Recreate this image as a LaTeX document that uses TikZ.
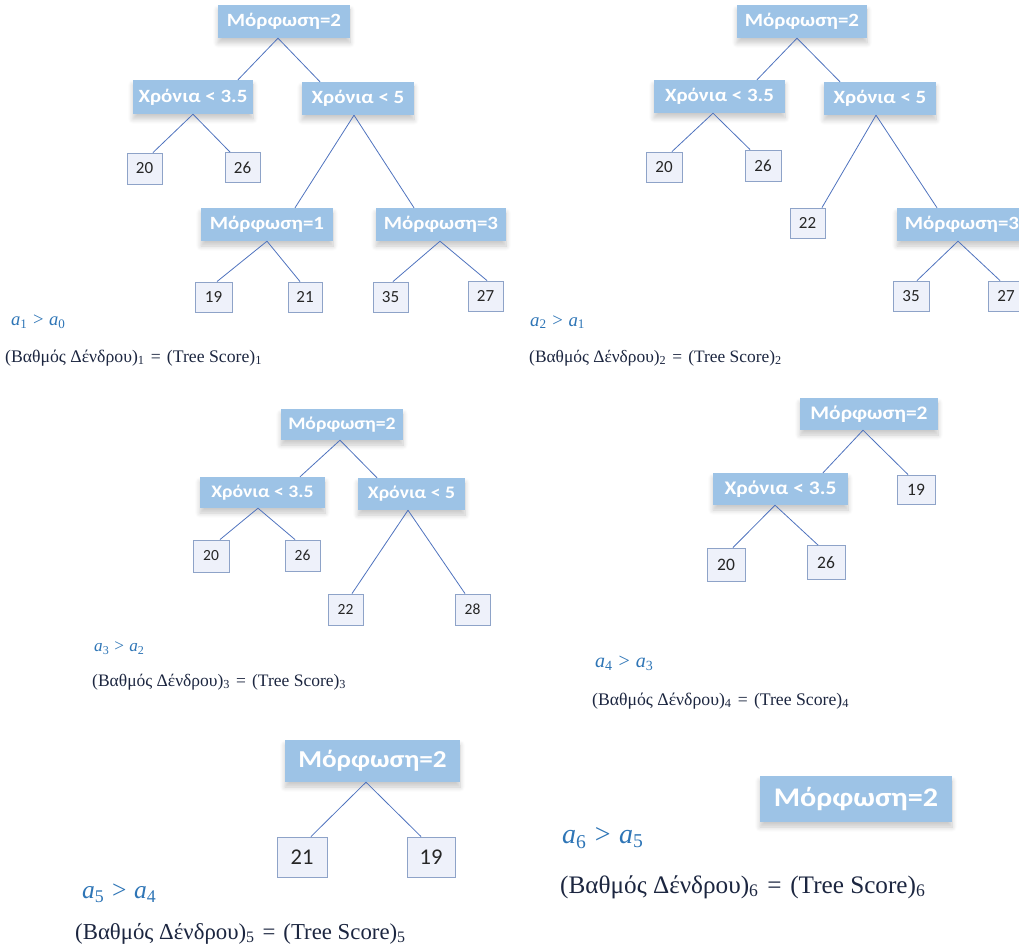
\documentclass[tikz,border=0pt]{standalone}
\usepackage{fontspec}
\setmainfont{Liberation Serif}
\newfontfamily\carl{Carlito}
\newfontfamily\carlw[FakeStretch=1.12]{Carlito}
\usetikzlibrary{shadows.blur}
\definecolor{hdrblue}{HTML}{9DC3E6}
\definecolor{leaffill}{HTML}{EEF1FA}
\definecolor{leafdraw}{HTML}{8EA3C8}
\definecolor{edgeblue}{HTML}{4F73BE}
\definecolor{ablue}{HTML}{2E75B6}
\definecolor{fnavy}{HTML}{1C2640}
\newcommand\tscore[1]{(Βαθμός Δένδρου)\textsubscript{#1}\hspace{0.35em}=\hspace{0.35em}(Tree Score)\textsubscript{#1}}
\newcommand\aineq[2]{\textit{a}\textsubscript{#1}\hspace{0.3em}>\hspace{0.3em}\textit{a}\textsubscript{#2}}
\newcommand\fsz[1]{\fontsize{#1}{#1}\selectfont}
\tikzset{
  hdr/.style={fill=hdrblue, text=white, inner sep=0pt,
    blur shadow={shadow xshift=0pt, shadow yshift=-5pt, shadow blur steps=8, shadow opacity=22, shadow blur radius=5pt}},
  leaf/.style={fill=leaffill, draw=leafdraw, line width=0.9pt, inner sep=0pt, text=black!85},
  edge/.style={draw=edgeblue, line width=0.8pt},
  atext/.style={anchor=west, inner sep=0pt, text=ablue},
  ftext/.style={anchor=west, inner sep=0pt, text=fnavy}
}
\begin{document}
\begin{tikzpicture}[x=1pt,y=-1pt]
\useasboundingbox (0,0) rectangle (1019,949);
% ---------- Tree 1 ----------
\node[hdr, minimum width=132pt, minimum height=33pt, font=\carlw\bfseries\fsz{18.7}] (r1) at (284,21.5) {Μόρφωση=2};
\node[hdr, minimum width=120pt, minimum height=34pt, font=\carlw\bfseries\fsz{18.7}] (a1) at (193,97) {Χρόνια < 3.5};
\node[hdr, minimum width=112pt, minimum height=33pt, font=\carlw\bfseries\fsz{18.7}] (b1) at (358,98.5) {Χρόνια < 5};
\node[hdr, minimum width=132pt, minimum height=33pt, font=\carlw\bfseries\fsz{18.7}] (m1) at (267,224.5) {Μόρφωση=1};
\node[hdr, minimum width=130pt, minimum height=33pt, font=\carlw\bfseries\fsz{18.7}] (m3) at (441,224.5) {Μόρφωση=3};
\node[leaf, minimum width=35pt, minimum height=31pt, font=\carl\fsz{17}] (t1l20) at (144.5,168.5) {20};
\node[leaf, minimum width=35pt, minimum height=30pt, font=\carl\fsz{17}] (t1l26) at (242.5,167.5) {26};
\node[leaf, minimum width=37pt, minimum height=30pt, font=\carl\fsz{17}] (t1l19) at (213.5,297) {19};
\node[leaf, minimum width=34pt, minimum height=30pt, font=\carl\fsz{17}] (t1l21) at (305,297) {21};
\node[leaf, minimum width=35pt, minimum height=30pt, font=\carl\fsz{17}] (t1l35) at (390.5,297) {35};
\node[leaf, minimum width=35pt, minimum height=30pt, font=\carl\fsz{17}] (t1l27) at (485.5,296) {27};
\draw[edge] ([xshift=-6pt]r1.south) -- ([xshift=45pt]a1.north);
\draw[edge] ([xshift=-6pt]r1.south) -- ([xshift=-38pt]b1.north);
\draw[edge] (a1.south) -- ([xshift=8.5pt]t1l20.north);
\draw[edge] (a1.south) -- ([xshift=-12.5pt]t1l26.north);
\draw[edge] ([xshift=-4pt]b1.south) -- ([xshift=28pt]m1.north);
\draw[edge] ([xshift=-4pt]b1.south) -- ([xshift=-27pt]m3.north);
\draw[edge] (m1.south) -- ([xshift=3.5pt]t1l19.north);
\draw[edge] (m1.south) -- ([xshift=-5pt]t1l21.north);
\draw[edge] ([xshift=-1pt]m3.south) -- ([xshift=2.5pt]t1l35.north);
\draw[edge] ([xshift=-1pt]m3.south) -- ([xshift=1.5pt]t1l27.north);
\node[atext, font=\fsz{18.6}] (eq1) at (11,322) {\aineq{1}{0}};
\node[ftext, font=\fsz{17.7}] (sc1) at (5,358) {\tscore{1}};
% ---------- Tree 2 ----------
\node[hdr, minimum width=130pt, minimum height=33pt, font=\carlw\bfseries\fsz{18.7}] (r2) at (802,21.5) {Μόρφωση=2};
\node[hdr, minimum width=131pt, minimum height=33pt, font=\carlw\bfseries\fsz{18.7}] (a2) at (719.5,96.5) {Χρόνια < 3.5};
\node[hdr, minimum width=112pt, minimum height=33pt, font=\carlw\bfseries\fsz{18.7}] (b2) at (880,98.5) {Χρόνια < 5};
\node[hdr, minimum width=130pt, minimum height=33pt, font=\carlw\bfseries\fsz{18.7}] (m3b) at (962,224.5) {Μόρφωση=3};
\node[leaf, minimum width=36pt, minimum height=30pt, font=\carl\fsz{17}] (t2l20) at (664,167) {20};
\node[leaf, minimum width=36pt, minimum height=31pt, font=\carl\fsz{17}] (t2l26) at (763,165.5) {26};
\node[leaf, minimum width=35pt, minimum height=30pt, font=\carl\fsz{17}] (t2l22) at (807.5,223) {22};
\node[leaf, minimum width=36pt, minimum height=30pt, font=\carl\fsz{17}] (t2l35) at (911,296) {35};
\node[leaf, minimum width=36pt, minimum height=30pt, font=\carl\fsz{17}] (t2l27) at (1006,296) {27};
\draw[edge] ([xshift=-5pt]r2.south) -- ([xshift=37.5pt]a2.north);
\draw[edge] ([xshift=-5pt]r2.south) -- ([xshift=-40pt]b2.north);
\draw[edge] ([xshift=-6.5pt]a2.south) -- ([xshift=8pt]t2l20.north);
\draw[edge] ([xshift=-6.5pt]a2.south) -- ([xshift=-13pt]t2l26.north);
\draw[edge] ([xshift=-4pt]b2.south) -- ([xshift=14.5pt]t2l22.north);
\draw[edge] ([xshift=-4pt]b2.south) -- ([xshift=-25pt]m3b.north);
\draw[edge] ([xshift=-4pt]m3b.south) -- ([xshift=6pt]t2l35.north);
\draw[edge] ([xshift=-4pt]m3b.south) -- ([xshift=-6pt]t2l27.north);
\node[atext, font=\fsz{18.8}] (eq2) at (530,322) {\aineq{2}{1}};
\node[ftext, font=\fsz{17.4}] (sc2) at (529,358) {\tscore{2}};
% ---------- Tree 3 ----------
\node[hdr, minimum width=122pt, minimum height=31pt, font=\carlw\bfseries\fsz{17.6}] (r3) at (342,424.5) {Μόρφωση=2};
\node[hdr, minimum width=125pt, minimum height=31pt, font=\carlw\bfseries\fsz{17.6}] (a3) at (262.5,492.5) {Χρόνια < 3.5};
\node[hdr, minimum width=107pt, minimum height=32pt, font=\carlw\bfseries\fsz{17.6}] (b3) at (411.5,494) {Χρόνια < 5};
\node[leaf, minimum width=36pt, minimum height=32pt, font=\carl\fsz{15.5}] (t3l20) at (211,556) {20};
\node[leaf, minimum width=35pt, minimum height=31pt, font=\carl\fsz{15.5}] (t3l26) at (302.5,555.5) {26};
\node[leaf, minimum width=35pt, minimum height=31pt, font=\carl\fsz{15.5}] (t3l22) at (345.5,609.5) {22};
\node[leaf, minimum width=35pt, minimum height=31pt, font=\carl\fsz{15.5}] (t3l28) at (472.5,609.5) {28};
\draw[edge] ([xshift=-2pt]r3.south) -- ([xshift=37.5pt]a3.north);
\draw[edge] ([xshift=-2pt]r3.south) -- ([xshift=-34.5pt]b3.north);
\draw[edge] ([xshift=-4.5pt]a3.south) -- ([xshift=9pt]t3l20.north);
\draw[edge] ([xshift=-4.5pt]a3.south) -- ([xshift=-7.5pt]t3l26.north);
\draw[edge] ([xshift=-3.5pt]b3.south) -- ([xshift=6.5pt]t3l22.north);
\draw[edge] ([xshift=-3.5pt]b3.south) -- ([xshift=-7.5pt]t3l28.north);
\node[atext, font=\fsz{17.2}] (eq3) at (94,648) {\aineq{3}{2}};
\node[ftext, font=\fsz{17.5}] (sc3) at (92,682) {\tscore{3}};
% ---------- Tree 4 ----------
\node[hdr, minimum width=138pt, minimum height=32pt, font=\carlw\bfseries\fsz{19.2}] (r4) at (869,414) {Μόρφωση=2};
\node[hdr, minimum width=135pt, minimum height=32pt, font=\carlw\bfseries\fsz{19.2}] (a4) at (780.5,489) {Χρόνια < 3.5};
\node[leaf, minimum width=38pt, minimum height=29pt, font=\carl\fsz{17.5}] (t4l19) at (916,489.5) {19};
\node[leaf, minimum width=38pt, minimum height=33pt, font=\carl\fsz{17.5}] (t4l20) at (726,564.5) {20};
\node[leaf, minimum width=38pt, minimum height=34pt, font=\carl\fsz{17.5}] (t4l26) at (826,562.5) {26};
\draw[edge] ([xshift=-6pt]r4.south) -- ([xshift=42.5pt]a4.north);
\draw[edge] ([xshift=-6pt]r4.south) -- ([xshift=-8pt]t4l19.north);
\draw[edge] ([xshift=-5.5pt]a4.south) -- ([xshift=7pt]t4l20.north);
\draw[edge] ([xshift=-5.5pt]a4.south) -- ([xshift=-8pt]t4l26.north);
\node[atext, font=\fsz{20}] (eq4) at (595,663) {\aineq{4}{3}};
\node[ftext, font=\fsz{17.7}] (sc4) at (592,701) {\tscore{4}};
% ---------- Tree 5 ----------
\node[hdr, minimum width=175pt, minimum height=42pt, font=\carlw\bfseries\fsz{24.3}] (r5) at (372.5,761) {Μόρφωση=2};
\node[leaf, minimum width=50pt, minimum height=40pt, font=\carl\fsz{22.5}] (t5l21) at (302,857) {21};
\node[leaf, minimum width=48pt, minimum height=40pt, font=\carl\fsz{22.5}] (t5l19) at (431,857) {19};
\draw[edge] ([xshift=-6.5pt]r5.south) -- ([xshift=9pt]t5l21.north);
\draw[edge] ([xshift=-6.5pt]r5.south) -- ([xshift=-10pt]t5l19.north);
\node[atext, font=\fsz{25.5}] (eq5) at (82,893) {\aineq{5}{4}};
\node[ftext, font=\fsz{22.8}] (sc5) at (75,934) {\tscore{5}};
% ---------- Tree 6 ----------
\node[hdr, minimum width=192pt, minimum height=46pt, font=\carlw\bfseries\fsz{26.9}] (r6) at (856,799) {Μόρφωση=2};
\node[atext, font=\fsz{28}] (eq6) at (562,838) {\aineq{6}{5}};
\node[ftext, font=\fsz{25.2}] (sc6) at (560,887) {\tscore{6}};
\end{tikzpicture}
\end{document}
